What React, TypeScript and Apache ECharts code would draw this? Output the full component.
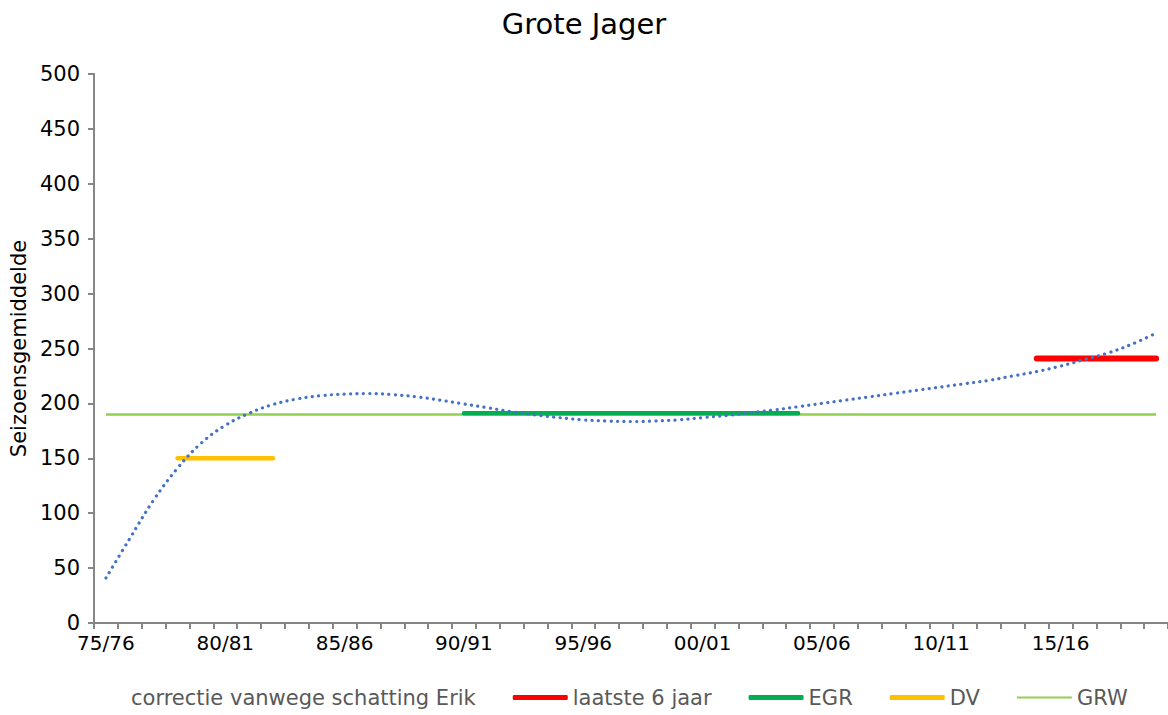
import React, { useEffect, useRef } from 'react';
import * as echarts from 'echarts';

const categories = [
  '75/76', '76/77', '77/78', '78/79', '79/80', '80/81', '81/82', '82/83', '83/84', '84/85',
  '85/86', '86/87', '87/88', '88/89', '89/90', '90/91', '91/92', '92/93', '93/94', '94/95',
  '95/96', '96/97', '97/98', '98/99', '99/00', '00/01', '01/02', '02/03', '03/04', '04/05',
  '05/06', '06/07', '07/08', '08/09', '09/10', '10/11', '11/12', '12/13', '13/14', '14/15',
  '15/16', '16/17', '17/18', '18/19', '19/20',
];

// polynomial trend curve
const trendValues = [
  41, 77, 112, 141, 164, 180, 191, 199, 204, 207,
  208.5, 209, 208, 206, 203, 199.5, 196, 192.5, 189.5, 187,
  185, 184, 183.5, 184, 185, 187, 189, 191.5, 194, 197,
  200, 203, 206, 209, 212, 215, 218, 221, 225, 229,
  234, 240, 246, 254, 264,
];

const grwValue = 190;
const egrValue = 191;
const egrRange = ['90/91', '04/05'];
const dvValue = 150;
const dvRange = ['78/79', '82/83'];
const lastValue = 241;
const lastRange = ['14/15', '19/20'];

const yMin = 0;
const yMax = 500;
const yInterval = 50;

function span(value: number, range: string[]) {
  const a = categories.indexOf(range[0]);
  const b = categories.indexOf(range[1]);
  return categories.map((_, i) => (i >= a && i <= b ? value : null));
}

const FONT = 'DejaVu Sans';

export default function App() {
  const ref = useRef<HTMLDivElement>(null);
  useEffect(() => {
    if (!ref.current) return;
    const chart = echarts.init(ref.current, undefined, { renderer: 'svg' });
    const thinIcon = 'path://M0,0 L0.01,0 Z M0,1.6 L55,1.6 L55,3.4 L0,3.4 Z M0,5 L0.01,5 Z';
    chart.setOption({
      animation: false,
      backgroundColor: '#ffffff',
      textStyle: { fontFamily: FONT },
      title: {
        text: 'Grote Jager',
        left: 'center',
        top: 4,
        textStyle: { fontFamily: FONT, fontSize: 29, fontWeight: 'normal', color: '#000000' },
      },
      grid: { left: 94, right: 0, top: 74, bottom: 92, containLabel: false },
      legend: {
        bottom: 2,
        left: 66,
        itemWidth: 55,
        itemHeight: 5,
        itemGap: 37,
        textStyle: { fontFamily: FONT, fontSize: 21, color: '#595959' },
        data: [
          { name: 'correctie vanwege schatting Erik', icon: 'rect', itemStyle: { color: 'rgba(0,0,0,0)' } },
          { name: 'laatste 6 jaar', icon: 'roundRect' },
          { name: 'EGR', icon: 'roundRect' },
          { name: 'DV', icon: 'roundRect' },
          { name: 'GRW', icon: thinIcon },
        ],
      },
      xAxis: {
        type: 'category',
        data: categories,
        boundaryGap: true,
        axisLine: { lineStyle: { color: '#868686', width: 2 } },
        axisTick: { show: true, interval: 0, length: 6, lineStyle: { color: '#868686', width: 2 } },
        axisLabel: { interval: 4, fontFamily: FONT, fontSize: 20, color: '#000000', margin: 10 },
        splitLine: { show: false },
      },
      yAxis: {
        type: 'value',
        min: yMin,
        max: yMax,
        interval: yInterval,
        name: 'Seizoensgemiddelde',
        nameLocation: 'middle',
        nameGap: 60,
        nameTextStyle: { fontFamily: FONT, fontSize: 21, color: '#000000' },
        axisLine: { show: true, lineStyle: { color: '#868686', width: 2 } },
        axisTick: { show: true, length: 6, lineStyle: { color: '#868686', width: 2 } },
        axisLabel: { fontFamily: FONT, fontSize: 21, color: '#000000', margin: 14 },
        splitLine: { show: false },
      },
      series: [
        {
          name: 'correctie vanwege schatting Erik',
          type: 'line',
          data: categories.map(() => null),
          symbol: 'none',
          itemStyle: { color: 'rgba(0,0,0,0)' },
          lineStyle: { color: 'rgba(0,0,0,0)' },
        },
        {
          name: 'GRW',
          type: 'line',
          data: categories.map(() => grwValue),
          symbol: 'none',
          itemStyle: { color: '#92D050' },
          lineStyle: { color: '#92D050', width: 2.5 },
          z: 2,
        },
        {
          name: 'EGR',
          type: 'line',
          data: span(egrValue, egrRange),
          symbol: 'none',
          itemStyle: { color: '#00B050' },
          lineStyle: { color: '#00B050', width: 4.5, cap: 'round' },
          z: 3,
        },
        {
          name: 'DV',
          type: 'line',
          data: span(dvValue, dvRange),
          symbol: 'none',
          itemStyle: { color: '#FFC000' },
          lineStyle: { color: '#FFC000', width: 4.5, cap: 'round' },
          z: 3,
        },
        {
          name: 'laatste 6 jaar',
          type: 'line',
          data: span(lastValue, lastRange),
          symbol: 'none',
          itemStyle: { color: '#FF0000' },
          lineStyle: { color: '#FF0000', width: 6, cap: 'round' },
          z: 3,
        },
        {
          name: 'trend',
          type: 'line',
          data: trendValues,
          symbol: 'none',
          smooth: 0.4,
          itemStyle: { color: '#4472C4' },
          lineStyle: { color: '#4472C4', width: 3.2, type: [0.1, 6.3], cap: 'round' },
          z: 5,
        },
      ],
    });
    return () => chart.dispose();
  }, []);
  return (
    <div
      ref={ref}
      style={{ position: 'fixed', left: 0, top: 0, width: 1168, height: 715, background: '#fff' }}
    />
  );
}
